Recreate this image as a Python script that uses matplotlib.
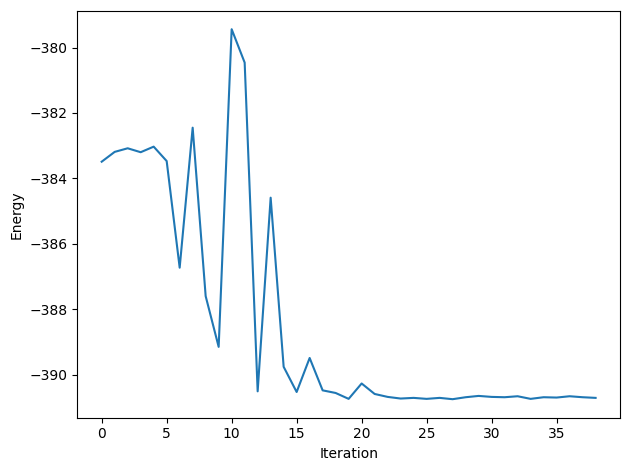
import matplotlib
matplotlib.use("Agg")
import matplotlib.pyplot as plt

iterations = list(range(39))
energy = [-383.49, -383.19, -383.08, -383.20, -383.03, -383.47, -386.73, -382.45,
          -387.60, -389.15, -379.44, -380.46, -390.51, -384.59, -389.76, -390.53,
          -389.49, -390.48, -390.56, -390.74, -390.27, -390.59, -390.68, -390.73,
          -390.71, -390.74, -390.71, -390.75, -390.69, -390.65, -390.68, -390.69,
          -390.66, -390.74, -390.69, -390.70, -390.66, -390.69, -390.71]

fig, ax = plt.subplots(figsize=(6.3, 4.7), dpi=100)
ax.plot(iterations, energy)
ax.set_xlabel("Iteration")
ax.set_ylabel("Energy")
fig.subplots_adjust(left=0.1222, right=0.9846, top=0.9772, bottom=0.1113)
fig.savefig("out.png")
